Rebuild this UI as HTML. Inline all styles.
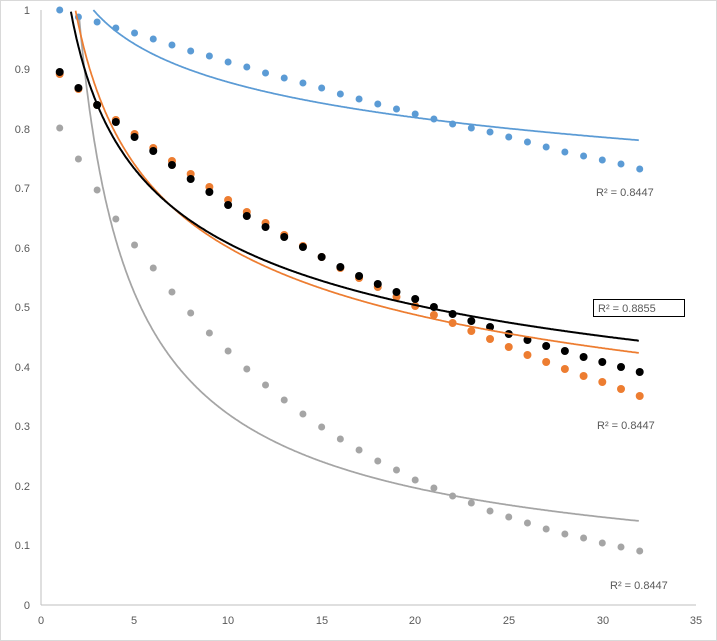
<!DOCTYPE html>
<html><head><meta charset="utf-8"><style>
html,body{margin:0;padding:0;background:#fff;}
svg{display:block;font-family:"Liberation Sans",sans-serif;}
</style></head><body>
<svg id="c" width="717" height="641" xmlns="http://www.w3.org/2000/svg">
<rect x="0.5" y="0.5" width="716" height="640" fill="#fff" stroke="#d9d9d9"/>
<line x1="41" y1="10" x2="41" y2="605" stroke="#bfbfbf"/>
<line x1="41" y1="605" x2="696" y2="605" stroke="#bfbfbf"/>
<g font-size="11" fill="#595959" text-anchor="end">
<text x="30" y="14">1</text><text x="30" y="73">0.9</text><text x="30" y="133">0.8</text>
<text x="30" y="192">0.7</text><text x="30" y="252">0.6</text><text x="30" y="311">0.5</text>
<text x="30" y="371">0.4</text><text x="30" y="430">0.3</text><text x="30" y="490">0.2</text>
<text x="30" y="549">0.1</text><text x="30" y="609">0</text>
</g>
<g font-size="11" fill="#595959" text-anchor="middle">
<text x="41" y="624">0</text><text x="134" y="624">5</text><text x="228" y="624">10</text>
<text x="322" y="624">15</text><text x="415" y="624">20</text><text x="509" y="624">25</text>
<text x="603" y="624">30</text><text x="696" y="624">35</text>
</g>
<g id="g"></g>
<g font-size="11" fill="#595959">
<text x="596" y="196">R² = 0.8447</text>
<rect x="593.5" y="299.5" width="91" height="17" fill="#fff" stroke="#000"/>
<text x="598" y="312">R² = 0.8855</text>
<text x="597" y="429">R² = 0.8447</text>
<text x="610" y="589">R² = 0.8447</text>
</g>
</svg>
<script>
var g=document.getElementById('g'),NS='http://www.w3.org/2000/svg';
function X(v){return 41+v*18.71;} function Y(v){return 605-v*595;}
function curve(A,b,col){var p=[];for(var x=1;x<=32;x+=0.05){var y=A*Math.pow(x,-b);if(y>1)continue;p.push(X(x).toFixed(1)+','+Y(y).toFixed(1));}
var e=document.createElementNS(NS,'polyline');e.setAttribute('points',p.join(' '));e.setAttribute('fill','none');e.setAttribute('stroke',col);e.setAttribute('stroke-width',col=='#000'?2:1.75);g.appendChild(e);}
function dots(ys,col,r){for(var i=0;i<ys.length;i++){var c=document.createElementNS(NS,'circle');c.setAttribute('cx',X(i+1));c.setAttribute('cy',ys[i]);c.setAttribute('r',r);c.setAttribute('fill',col);g.appendChild(c);}}
dots([10,17,22,28,33,39,45,51,56,62,67,73,78,83,88,94,99,104,109,114,119,124,128,132,137,142,147,152,156,160,164,169],'#5B9BD5',3.5);
dots([128,159,190,219,245,268,292,313,333,351,369,385,400,414,427,439,450,461,470,480,488,496,503,511,517,523,529,534,538,543,547,551],'#A5A5A5',3.5);
dots([74,89,105,120,134,148,161,174,187,200,212,223,235,246,257,268,278,287,297,306,315,323,331,339,347,355,362,369,376,382,389,396],'#ED7D31',4);
dots([72,88,105,122,137,151,165,179,192,205,216,227,237,247,257,267,276,284,292,299,307,314,321,327,334,340,346,351,357,362,367,372],'#000',4);
curve(1.110,0.1014,'#5B9BD5');
curve(1.634,0.7066,'#A5A5A5');
curve(1.202,0.301,'#ED7D31');
curve(1.132,0.27,'#000');
</script>
</body></html>
